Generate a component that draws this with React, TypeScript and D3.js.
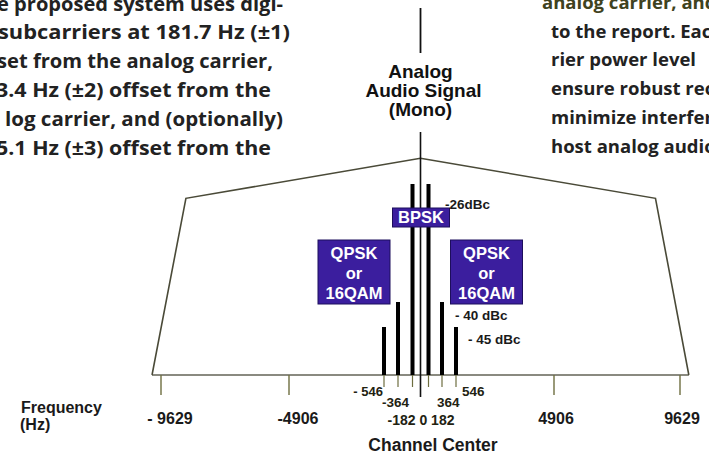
import React from "react";
import * as d3 from "d3";

// ---- data ----
const axisFreqs = [-9629, -4906, 4906, 9629];
const axisLabels = ["- 9629", "-4906", "4906", "9629"];
const carrierFreqs = [-546, -364, -182, 182, 364, 546];
const carrierLevels = [-45, -40, -26, -26, -40, -45]; // dBc
const analogFreq = 0;
const analogLevel = 0;
const maskFreqs = [-9960, -8710, 0, 8710, 9960];
const maskLevels = [-60, -27.7, -22.2, -27.7, -60];
const levelLabels = ["-26dBc", "- 40 dBc", "- 45 dBc"];
const levelValues = [-26, -40, -45];

const leftText = [
  "e proposed system uses digi-",
  "subcarriers at 181.7 Hz (\u00b11)",
  "set from the analog carrier,",
  "3.4 Hz (\u00b12) offset from the",
  "log carrier, and (optionally)",
  "5.1 Hz (\u00b13) offset from the",
];
const rightText = [
  "analog carrier, and",
  "to the report. Each",
  "rier power level",
  "ensure robust reception",
  "minimize interference",
  "host analog audio",
];

const W = 709;
const H = 456;

export default function App() {
  const x = d3
    .scaleLinear()
    .domain([-9629, -4906, -546, -364, -182, 0, 182, 364, 546, 4906, 9629])
    .range([161, 289, 384, 398, 412.5, 420.5, 428.5, 442, 456, 554, 680]);
  const y = d3
    .scaleLinear()
    .domain([-60, -45, -40, -26, 0])
    .range([375, 327, 302, 184, 8]);

  const base = y(-60);
  const mask = d3
    .line<number>()
    .x((_, i) => x(maskFreqs[i]))
    .y((_, i) => y(maskLevels[i]))(maskFreqs as any);

  const purple = "#3b1e9e";
  const olive = "#6e6e40";
  const arial = "'Liberation Sans', Arial, sans-serif";
  const text = "'Open Sans', Lato, sans-serif";
  const cx = x(analogFreq);

  const box = (cxp: number, yTop: number, w: number, h: number, lines: string[], key: string) => (
    <g key={key}>
      <rect x={cxp - w / 2} y={yTop} width={w} height={h} fill={purple} stroke="#1d0e5c" strokeWidth={1} />
      {lines.map((l, i) => (
        <text
          key={i}
          x={cxp}
          y={yTop + (lines.length === 1 ? h / 2 + 5.8 : 19 + i * 20)}
          textAnchor="middle"
          fill="#ffffff"
          fontFamily={arial}
          fontWeight="bold"
          fontSize={16.5}
        >
          {l}
        </text>
      ))}
    </g>
  );

  const leftSpans = [
    [-3, 283],
    [-2, 290],
    [-3, 273],
    [-4, 271],
    [5, 283],
    [-4, 271],
  ];

  return (
    <svg
      width={W}
      height={H}
      style={{ position: "absolute", left: 0, top: 0, display: "block", background: "#fff" }}
    >
      {/* paragraph text */}
      {leftText.map((t, i) => (
        <text
          key={"l" + i}
          x={leftSpans[i][0]}
          y={10.5 + i * 28.8}
          textLength={leftSpans[i][1] - leftSpans[i][0]}
          lengthAdjust="spacingAndGlyphs"
          fontFamily={text}
          fontWeight="bold"
          fontSize={19}
          fill="#222"
        >
          {t}
        </text>
      ))}
      {rightText.map((t, i) => (
        <text
          key={"r" + i}
          x={i === 0 ? 542 : 551}
          y={9 + i * 28.7}
          fontFamily={text}
          fontWeight="bold"
          fontSize={18.5}
          fill={i === 0 ? "#3f4220" : "#222"}
        >
          {t}
        </text>
      ))}

      {/* envelope / mask */}
      <line x1={x(maskFreqs[0])} x2={x(maskFreqs[4])} y1={base} y2={base} stroke="#8a8a80" strokeWidth={2} />
      <path d={mask || ""} fill="none" stroke="#4a4a38" strokeWidth={1.6} />

      {/* axis ticks */}
      {axisFreqs.map((f, i) => (
        <g key={"t" + i}>
          <line x1={x(f)} x2={x(f)} y1={base} y2={base + 20} stroke={olive} strokeWidth={1.4} />
          <text
            x={x(f) + (f < 0 ? 9 : 2)}
            y={424}
            textAnchor="middle"
            fontFamily={arial}
            fontWeight="bold"
            fontSize={16}
            fill="#1a1a1a"
          >
            {axisLabels[i]}
          </text>
        </g>
      ))}

      {/* carrier ticks */}
      {carrierFreqs.map((f, i) => (
        <line key={"ct" + i} x1={x(f)} x2={x(f)} y1={base} y2={base + 12} stroke={olive} strokeWidth={1.2} />
      ))}

      {/* analog carrier */}
      <line x1={cx} x2={cx} y1={y(analogLevel)} y2={53} stroke="#111" strokeWidth={1.8} />
      <line x1={cx} x2={cx} y1={132} y2={base + 22} stroke="#111" strokeWidth={1.6} />

      {/* digital subcarriers */}
      {carrierFreqs.map((f, i) => (
        <line
          key={"c" + i}
          x1={x(f)}
          x2={x(f)}
          y1={base}
          y2={y(carrierLevels[i])}
          stroke="#000"
          strokeWidth={4}
        />
      ))}

      {/* modulation boxes */}
      {box(cx + 0.5, 208, 57, 19, ["BPSK"], "b")}
      {box(cx - 66.5, 240, 72, 64, ["QPSK", "or", "16QAM"], "q1")}
      {box(cx + 66, 240, 72, 64, ["QPSK", "or", "16QAM"], "q2")}

      {/* level labels */}
      {levelLabels.map((l, i) => (
        <text
          key={"lv" + i}
          x={[445, 455, 468][i]}
          y={y(levelValues[i]) + [24.5, 18, 16.5][i]}
          fontFamily={arial}
          fontWeight="bold"
          fontSize={13.5}
          fill="#1a1a1a"
        >
          {l}
        </text>
      ))}

      {/* analog label */}
      {["Analog", "Audio Signal", "(Mono)"].map((l, i) => (
        <text
          key={"a" + i}
          x={cx + (i === 1 ? 3 : 0)}
          y={78 + i * 19}
          textAnchor="middle"
          fontFamily={arial}
          fontWeight="bold"
          fontSize={19}
          fill="#111"
        >
          {l}
        </text>
      ))}

      {/* carrier frequency labels */}
      <text x={383} y={396} textAnchor="end" fontFamily={arial} fontWeight="bold" fontSize={13} fill="#222211">- 546</text>
      <text x={409} y={407} textAnchor="end" fontFamily={arial} fontWeight="bold" fontSize={13.5} fill="#222211">-364</text>
      <text x={437} y={407} textAnchor="start" fontFamily={arial} fontWeight="bold" fontSize={13.5} fill="#222211">364</text>
      <text x={462} y={396} textAnchor="start" fontFamily={arial} fontWeight="bold" fontSize={13.5} fill="#222211">546</text>
      <text x={421} y={424.5} textAnchor="middle" fontFamily={arial} fontWeight="bold" fontSize={14} fill="#222211">-182 0 182</text>

      <text x={433} y={451} textAnchor="middle" fontFamily={arial} fontWeight="bold" fontSize={17.5} fill="#1a1a1a">Channel Center</text>

      <text x={21} y={413} fontFamily={arial} fontWeight="bold" fontSize={16} fill="#1a1a1a">Frequency</text>
      <text x={20} y={430} fontFamily={arial} fontWeight="bold" fontSize={16} fill="#1a1a1a">(Hz)</text>
    </svg>
  );
}
